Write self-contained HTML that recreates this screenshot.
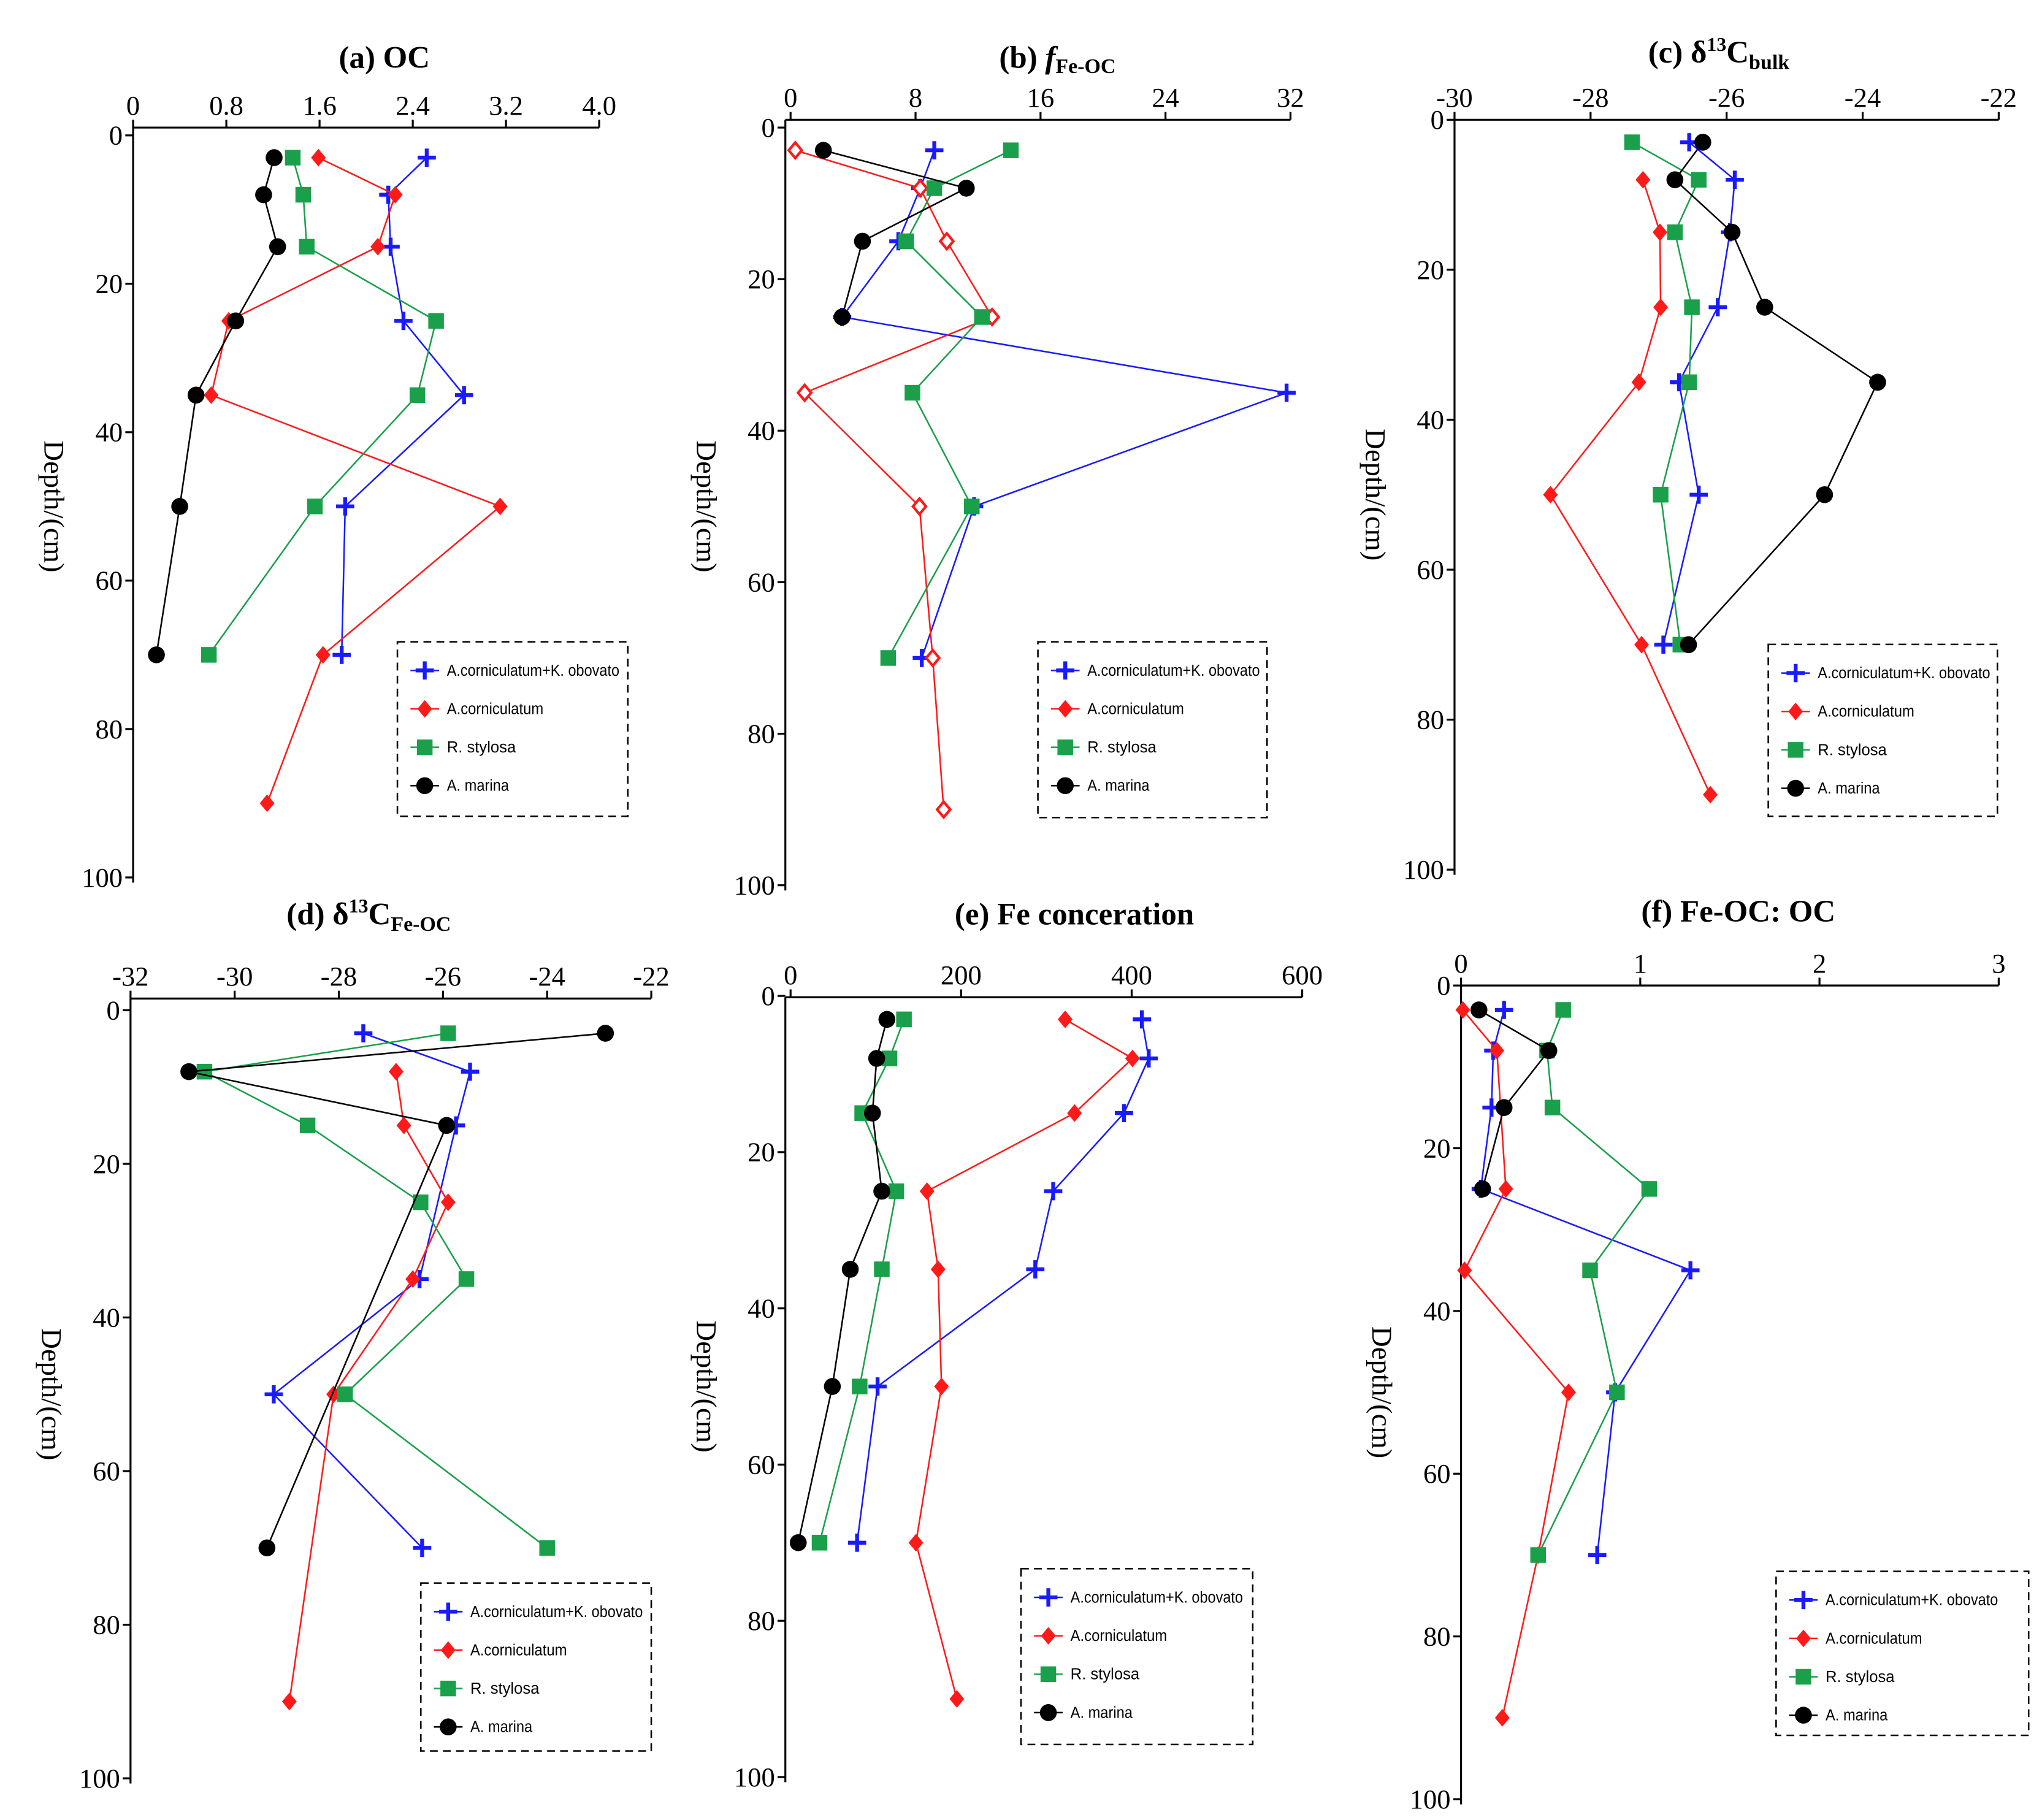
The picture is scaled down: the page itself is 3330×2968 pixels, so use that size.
<!DOCTYPE html>
<html><head><meta charset="utf-8">
<style>
html,body{margin:0;padding:0;background:#fff;}
svg{display:block;}
text{font-family:"Liberation Serif",serif;}
.leg{font-family:"Liberation Sans",sans-serif;font-size:12px;}
</style></head>
<body>
<svg id="fig" width="3330" height="2968" viewBox="0 0 1568 1398" xmlns="http://www.w3.org/2000/svg"></svg>
<script>
// ---- data: depths (cm) ----
const depthA=[3,8,15,25,35,50,70], depthA90=[3,8,15,25,35,50,70,90];
// (a) OC
const aBlue=[2.52,2.19,2.21,2.32,2.84,1.82,1.79];
const aRed=[1.59,2.25,2.10,0.82,0.67,3.15,1.63,1.15];
const aGreen=[1.37,1.46,1.49,2.60,2.44,1.56,0.65];
const aBlack=[1.21,1.12,1.24,0.88,0.54,0.40,0.20];
const aTicks=["0","0.8","1.6","2.4","3.2","4.0"];
// (b) f Fe-OC
const bBlue=[9.2,8.3,6.9,3.3,31.75,11.75,8.4];
const bRed=[0.3,8.3,10,12.9,0.9,8.25,9.1,9.8];
const bGreen=[14.1,9.2,7.4,12.25,7.8,11.6,6.25];
const bBlackDepth=[3,8,15,25];
const bBlack=[2.1,11.25,4.6,3.3];
const bTicks=["0","8","16","24","32"];
// (c) d13C bulk
const cBlue=[-26.55,-25.88,-25.95,-26.13,-26.70,-26.41,-26.93];
const cRedDepth=[8,15,25,35,50,70,90];
const cRed=[-27.23,-26.98,-26.97,-27.29,-28.59,-27.25,-26.24];
const cGreen=[-27.39,-26.41,-26.76,-26.51,-26.55,-26.97,-26.68];
const cBlack=[-26.35,-26.76,-25.92,-25.44,-23.78,-24.56,-26.56];
const cTicks=["-30","-28","-26","-24","-22"];
// (d) d13C Fe-OC
const dBlueDepth=[3,8,15,35,50,70];
const dBlue=[-27.53,-25.48,-25.75,-26.45,-29.25,-26.4];
const dRedDepth=[8,15,25,35,50,90];
const dRed=[-26.9,-26.75,-25.9,-26.58,-28.1,-28.95];
const dGreen=[-25.9,-30.58,-28.6,-26.43,-25.55,-27.88,-24.0];
const dBlackDepth=[3,8,15,70];
const dBlack=[-22.88,-30.88,-25.93,-29.38];
const dTicks=["-32","-30","-28","-26","-24","-22"];
// (e) Fe concentration
const eBlue=[412,420,391,308,287,102,78];
const eRed=[322,401,333,160,173,177,147,195];
const eGreen=[133,116,84,124,107,81,34];
const eBlack=[113,101,96,107,70,49,9];
const eTicks=["0","200","400","600"];
// (f) Fe-OC:OC
const fBlueDepth=[3,8,15,25,35,50,70];
const fBlue=[0.24,0.18,0.17,0.11,1.28,0.86,0.76];
const fRedDepth=[3,8,25,35,50,70,90];
const fRed=[0.01,0.20,0.25,0.02,0.60,0.43,0.23];
const fGreen=[0.57,0.48,0.51,1.05,0.72,0.87,0.43];
const fBlackDepth=[3,8,15,25];
const fBlack=[0.10,0.49,0.24,0.12];
const fTicks=["0","1","2","3"];
const depthTicks=[0,20,40,60,80,100];

const NS="http://www.w3.org/2000/svg";
const svg=document.getElementById('fig');
function el(tag,attrs,parent){const e=document.createElementNS(NS,tag);for(const k in attrs)e.setAttribute(k,attrs[k]);(parent||svg).appendChild(e);return e;}

const COL={blue:"#1a1aff",red:"#ff1a1a",green:"#1aa04a",black:"#000"};
function marker(g,kind,x,y,hollow){
  let m;
  if(kind==='blue'){
    m=el('path',{d:`M${x-7} ${y}H${x+7}M${x} ${y-7}V${y+7}`,stroke:COL.blue,'stroke-width':3},g);
  }else if(kind==='red'){
    m=el('path',{d:`M${x} ${y-6}L${x+5} ${y}L${x} ${y+6}L${x-5} ${y}Z`,fill:hollow?'#fff':COL.red,stroke:COL.red,'stroke-width':hollow?2:1},g);
  }else if(kind==='green'){
    m=el('rect',{x:x-6,y:y-6,width:12,height:12,fill:COL.green},g);
  }else{
    m=el('circle',{cx:x,cy:y,r:6.5,fill:'#000'},g);
  }
  return m;
}

function panel(cfg){
  const g=el('g',{});
  
  
  const sx=v=>cfg.x0+(v-cfg.vmin)/(cfg.vmax-cfg.vmin)*(cfg.x1-cfg.x0);
  const sy=d=>cfg.y0+d*cfg.ypc;
  const yb=sy(100)+4;
  const xa=el('line',{x1:cfg.ax,y1:cfg.ay,x2:cfg.x1,y2:cfg.ay,stroke:'#000','stroke-width':1.5},g);
  
  
  const ya=el('line',{x1:cfg.ax,y1:cfg.ay,x2:cfg.ax,y2:yb,stroke:'#000','stroke-width':1.5},g);
  
  
  const nT=cfg.ticks.length;
  cfg.ticks.forEach((t,i)=>{
    const v=cfg.vmin+(cfg.vmax-cfg.vmin)*i/(nT-1);const x=sx(v);
    el('line',{x1:x,y1:cfg.ay,x2:x,y2:cfg.ay-6,stroke:'#000','stroke-width':1.5},g);
    const tx=el('text',{x:x,y:cfg.ay-10,'text-anchor':'middle','font-size':21},g);
    tx.textContent=t;
    
    
  });
  depthTicks.forEach(d=>{
    const y=sy(d);
    el('line',{x1:cfg.ax,y1:y,x2:cfg.ax-6,y2:y,stroke:'#000','stroke-width':1.5},g);
    const tx=el('text',{x:cfg.ax-8,y:y+7,'text-anchor':'end','font-size':21},g);
    tx.textContent=d;
    
    
  });
  const yt=el('text',{x:0,y:0,'text-anchor':'middle','font-size':22,transform:`translate(${cfg.ax-68},${sy(50)}) rotate(90)`},g);
  yt.textContent='Depth/(cm)';
  
  
  const tt=el('text',{x:cfg.tx,y:cfg.ty,'text-anchor':'middle','font-size':24,'font-weight':'bold'},g);
  tt.innerHTML=cfg.title;
  
  
  cfg.series.forEach(s=>{
    const sg=el('g',{},g);
    
    
    const pts=s.vals.map((v,i)=>[sx(v),sy(s.depth[i])]);
    const pl=el('polyline',{points:pts.map(p=>p.join(',')).join(' '),fill:'none',stroke:COL[s.kind],'stroke-width':1.2},sg);
    
    
    pts.forEach(p=>{const m=marker(sg,s.kind,p[0],p[1],s.hollow);
      
      });
  });
  const L=cfg.leg;
  const lg=el('g',{},g);
  
  
  el('rect',{x:L[0],y:L[1],width:L[2],height:L[3],fill:'#fff',stroke:'#000','stroke-width':1.2,'stroke-dasharray':'6,4'},lg);
  const names=['A.corniculatum+K. obovato','A.corniculatum','R. stylosa','A. marina'];
  const kinds=['blue','red','green','black'];
  names.forEach((n,i)=>{
    const y=L[1]+22+i*29.5;
    el('line',{x1:L[0]+10,y1:y,x2:L[0]+32,y2:y,stroke:COL[kinds[i]],'stroke-width':1.2},lg);
    const m=marker(lg,kinds[i],L[0]+21,y,false);
    
    
    const t=el('text',{x:L[0]+38,y:y+4,'class':'leg',textLength:n.length*5.3,lengthAdjust:'spacingAndGlyphs'},lg);
    t.textContent=n;
    
    
  });
}

panel({name:'panel-a-oc',title:'(a) OC',tx:295,ty:52,x0:102,x1:460,vmin:0,vmax:4,ticks:aTicks,ax:102,ay:98,y0:104,ypc:5.7,leg:[305,493,177,134],
 series:[{kind:'blue',depth:depthA,vals:aBlue},{kind:'red',depth:depthA90,vals:aRed},{kind:'green',depth:depthA,vals:aGreen},{kind:'black',depth:depthA,vals:aBlack}]});
panel({name:'panel-b-ffeoc',title:'(b) <tspan font-style="italic">f</tspan><tspan font-size="16" dy="4">Fe-OC</tspan>',tx:812,ty:52,x0:607,x1:991,vmin:0,vmax:32,ticks:bTicks,ax:603,ay:92,y0:98,ypc:5.82,leg:[797,493,176,135],
 series:[{kind:'blue',depth:depthA,vals:bBlue},{kind:'red',depth:depthA90,vals:bRed,hollow:true},{kind:'green',depth:depthA,vals:bGreen},{kind:'black',depth:bBlackDepth,vals:bBlack}]});
panel({name:'panel-c-d13c-bulk',title:'(c) δ<tspan font-size="15" dy="-9">13</tspan><tspan dy="9">C</tspan><tspan font-size="16" dy="5">bulk</tspan>',tx:1320,ty:48,x0:1117,x1:1535,vmin:-30,vmax:-22,ticks:cTicks,ax:1117,ay:92,y0:92,ypc:5.76,leg:[1358,495,176,132],
 series:[{kind:'blue',depth:depthA,vals:cBlue},{kind:'red',depth:cRedDepth,vals:cRed},{kind:'green',depth:depthA,vals:cGreen},{kind:'black',depth:depthA,vals:cBlack}]});
panel({name:'panel-d-d13c-feoc',title:'(d) δ<tspan font-size="15" dy="-9">13</tspan><tspan dy="9">C</tspan><tspan font-size="16" dy="5">Fe-OC</tspan>',tx:283,ty:710,x0:100,x1:500,vmin:-32,vmax:-22,ticks:dTicks,ax:100,ay:767,y0:776,ypc:5.9,leg:[323,1216,177,129],
 series:[{kind:'blue',depth:dBlueDepth,vals:dBlue},{kind:'red',depth:dRedDepth,vals:dRed},{kind:'green',depth:depthA,vals:dGreen},{kind:'black',depth:dBlackDepth,vals:dBlack}]});
panel({name:'panel-e-fe',title:'(e) Fe conceration',tx:825,ty:710,x0:607,x1:1000,vmin:0,vmax:600,ticks:eTicks,ax:603,ay:766,y0:765,ypc:6.0,leg:[784,1205,178,135],
 series:[{kind:'blue',depth:depthA,vals:eBlue},{kind:'red',depth:depthA90,vals:eRed},{kind:'green',depth:depthA,vals:eGreen},{kind:'black',depth:depthA,vals:eBlack}]});
panel({name:'panel-f-feoc-oc',title:'(f) Fe-OC: OC',tx:1335,ty:708,x0:1122,x1:1535,vmin:0,vmax:3,ticks:fTicks,ax:1122,ay:757,y0:757,ypc:6.25,leg:[1364,1207,194,126],
 series:[{kind:'blue',depth:fBlueDepth,vals:fBlue},{kind:'red',depth:fRedDepth,vals:fRed},{kind:'green',depth:depthA,vals:fGreen},{kind:'black',depth:fBlackDepth,vals:fBlack}]});
</script>
</body></html>
